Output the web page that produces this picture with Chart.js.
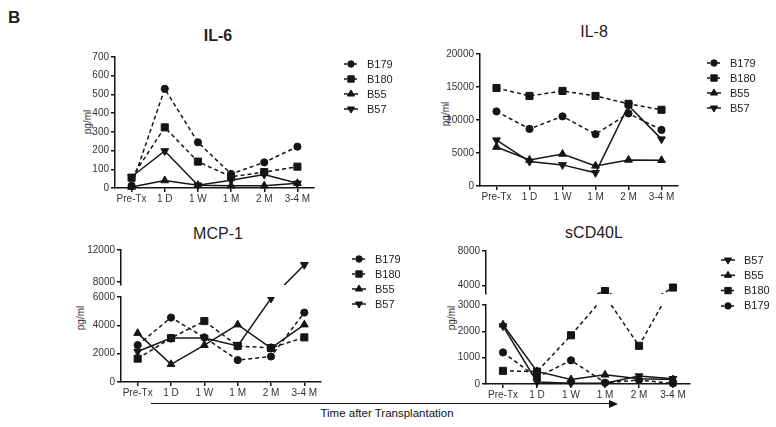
<!DOCTYPE html>
<html>
<head>
<meta charset="utf-8">
<script src="https://cdn.jsdelivr.net/npm/chart.js@4.4.0/dist/chart.umd.min.js"></script>
<style>
body { margin: 0; background: #fff; }
#page { position: relative; width: 776px; height: 427px; overflow: hidden; font-family: "Liberation Sans", Arial, sans-serif; color: #222; }
#page canvas { position: absolute; }
.title { position: absolute; font-size: 16px; line-height: 16px; transform: translate(-50%, -50%); white-space: nowrap; }
.ylab { position: absolute; font-size: 10px; line-height: 10px; color: #333; transform: translate(-50%, -50%) rotate(-90deg); white-space: nowrap; }
</style>
</head>
<body>
<div id="page">
  <div style="position:absolute;left:8px;top:8px;font-size:17px;font-weight:bold;">B</div>
  <div class="title" style="left:218px;top:36px;font-weight:bold;">IL-6</div>
  <div class="title" style="left:594px;top:32px;">IL-8</div>
  <div class="title" style="left:218px;top:234px;">MCP-1</div>
  <div class="title" style="left:594px;top:233px;">sCD40L</div>
  <div class="ylab" style="left:88px;top:122px;">pg/ml</div>
  <div class="ylab" style="left:446px;top:114px;">pg/ml</div>
  <div class="ylab" style="left:81px;top:318px;">pg/ml</div>
  <div class="ylab" style="left:452px;top:318px;">pg/ml</div>
  <div style="position:absolute;left:151px;top:403px;width:460px;height:0;border-top:1.5px solid #111;"></div>
  <div style="position:absolute;left:609px;top:400px;width:0;height:0;border-left:9px solid #111;border-top:4px solid transparent;border-bottom:4px solid transparent;"></div>
  <div style="position:absolute;left:387px;top:413px;transform:translate(-50%,-50%);font-size:11.5px;white-space:nowrap;color:#111;">Time after Transplantation</div>
</div>
<script>
// time points (x categories)
const timepoints = ['Pre-Tx', '1 D', '1 W', '1 M', '2 M', '3-4 M'];

// IL-6 (pg/ml)
const il6B179 = [12, 530, 244, 75, 137, 221];
const il6B180 = [55, 324, 141, 60, 85, 114];
const il6B55 = [5, 40, 15, 12, 12, 25];
const il6B57 = [60, 198, 15, 42, 72, 25];

// IL-8 (pg/ml)
const il8B179 = [11300, 8650, 10550, 7850, 11000, 8500];
const il8B180 = [14850, 13650, 14400, 13650, 12450, 11550];
const il8B55 = [5900, 3950, 4850, 3050, 3950, 3900];
const il8B57 = [6950, 3700, 3200, 2000, 12200, 7100];

// MCP-1 (pg/ml)
const mcpB179 = [2600, 4550, 3150, 1550, 1800, 4900];
const mcpB180 = [1650, 3100, 4300, 2550, 2400, 3150];
const mcpB55 = [3450, 1250, 2600, 4050, 2400, 4050];
const mcpB57 = [2150, 3100, 3100, 2550, 5900, 10150];

// sCD40L (pg/ml)
const cdB179 = [1200, 250, 900, 50, 150, 20];
const cdB180 = [500, 470, 1850, 3350, 1450, 3750];
const cdB55 = [2250, 480, 170, 350, 200, 170];
const cdB57 = [2200, 80, 30, 30, 300, 200];

// y tick labels
const il6Ticks = [0, 100, 200, 300, 400, 500, 600, 700];
const il8Ticks = [0, 5000, 10000, 15000, 20000];
const mcpLowTicks = [0, 2000, 4000, 6000];
const mcpHighTicks = [8000, 12000];
const cdLowTicks = [0, 1000, 2000, 3000];
const cdHighTicks = [4000, 8000];

const ink = '#151515';
Chart.defaults.font.family = "'Liberation Sans', Arial, sans-serif";

const seriesStyle = {
  B179: { shape: 'circle', rotation: 0, radius: 3.6, dash: [4, 3] },
  B180: { shape: 'rect', rotation: 0, radius: 5, dash: [4, 3] },
  B55: { shape: 'triangle', rotation: 0, radius: 4.5, dash: [] },
  B57: { shape: 'triangle', rotation: 180, radius: 4.5, dash: [] }
};

function makeDataset(label, values, clip) {
  const s = seriesStyle[label];
  return {
    label: label,
    data: values,
    borderColor: ink,
    backgroundColor: ink,
    borderWidth: 1.5,
    borderDash: s.dash,
    pointStyle: s.shape,
    pointRotation: s.rotation,
    pointRadius: s.radius,
    pointBorderWidth: 1,
    pointBackgroundColor: ink,
    pointBorderColor: ink,
    tension: 0,
    clip: clip === undefined ? 3 : clip
  };
}

// broken-axis halves: cut lines right at the break
const clipLow = { left: 3, right: 3, top: 0, bottom: 3 };
const clipHigh = { left: 3, right: 3, top: 3, bottom: 0 };

// legend drawn next to each panel: short line + marker + name
const sideLegend = {
  id: 'sideLegend',
  afterDraw(chart, args, opts) {
    if (!opts.items) return;
    const ctx = chart.ctx;
    opts.items.forEach(function (idx, i) {
      const ds = chart.data.datasets[idx];
      const y = opts.y + i * opts.gap;
      ctx.save();
      ctx.strokeStyle = ink;
      ctx.fillStyle = ink;
      ctx.lineWidth = 1.5;
      ctx.setLineDash(ds.borderDash.length ? [3, 2] : []);
      ctx.beginPath();
      ctx.moveTo(opts.x - 7, y);
      ctx.lineTo(opts.x + 7, y);
      ctx.stroke();
      ctx.setLineDash([]);
      ctx.lineWidth = 1;
      Chart.helpers.drawPoint(ctx, { pointStyle: ds.pointStyle, rotation: ds.pointRotation, radius: ds.pointRadius * 0.9, borderWidth: 1 }, opts.x, y);
      ctx.fillStyle = '#222';
      ctx.font = "11px 'Liberation Sans', Arial, sans-serif";
      ctx.textBaseline = 'middle';
      ctx.fillText(ds.label, opts.x + 16, y + 0.5);
      ctx.restore();
    });
  }
};
Chart.register(sideLegend);

const page = document.getElementById('page');

function addCanvas(box) {
  const c = document.createElement('canvas');
  c.width = box[2];
  c.height = box[3];
  c.style.left = box[0] + 'px';
  c.style.top = box[1] + 'px';
  c.style.width = box[2] + 'px';
  c.style.height = box[3] + 'px';
  page.appendChild(c);
  return c;
}

// box = canvas [x, y, w, h]; area = plot area [x0, y0, x1, y1] in page pixels
function panel(box, area, yMin, yMax, yTicks, datasets, showX, legend) {
  const yW = 40;
  const tickFont = { size: 10 };
  return new Chart(addCanvas(box), {
    type: 'line',
    data: { labels: timepoints, datasets: datasets },
    options: {
      responsive: false,
      animation: false,
      events: [],
      layout: {
        padding: {
          left: area[0] - box[0] - yW,
          top: area[1] - box[1],
          right: box[0] + box[2] - area[2],
          bottom: showX ? 0 : box[1] + box[3] - area[3]
        }
      },
      plugins: {
        legend: { display: false },
        tooltip: { enabled: false },
        sideLegend: legend ? { x: legend.x - box[0], y: legend.y - box[1], gap: legend.gap, items: legend.items } : false
      },
      scales: {
        x: {
          type: 'category',
          offset: true,
          display: showX,
          grid: { drawOnChartArea: false, tickLength: 4, color: ink, lineWidth: 1.5 },
          border: { color: ink, width: 1.5 },
          ticks: { font: tickFont, color: '#333', padding: 1, maxRotation: 0, autoSkip: false },
          afterFit: function (s) { if (showX) s.height = box[1] + box[3] - area[3]; }
        },
        y: {
          min: yMin,
          max: yMax,
          afterBuildTicks: function (s) { s.ticks = yTicks.map(function (v) { return { value: v }; }); },
          grid: { drawOnChartArea: false, tickLength: 4, color: ink, lineWidth: 1.5 },
          border: { color: ink, width: 1.5 },
          ticks: { font: tickFont, color: '#333', padding: 2, callback: function (v) { return String(v); } },
          afterFit: function (s) { s.width = yW; }
        }
      }
    }
  });
}

// IL-6
panel([0, 0, 400, 212], [115, 57, 314, 188], 0, 700, il6Ticks,
  [makeDataset('B179', il6B179), makeDataset('B180', il6B180), makeDataset('B55', il6B55), makeDataset('B57', il6B57)],
  true, { x: 351, y: 64, gap: 15, items: [0, 1, 2, 3] });

// IL-8
panel([388, 0, 388, 212], [480, 54, 678, 186], 0, 20000, il8Ticks,
  [makeDataset('B179', il8B179), makeDataset('B180', il8B180), makeDataset('B55', il8B55), makeDataset('B57', il8B57)],
  true, { x: 714, y: 63, gap: 15, items: [0, 1, 2, 3] });

// MCP-1, broken axis: upper part then lower part
panel([0, 212, 400, 215], [121, 250, 321, 285], 7600, 12000, mcpHighTicks,
  [makeDataset('B57', mcpB57, clipHigh)], false, null);
panel([0, 212, 400, 215], [121, 297, 321, 382], 0, 6000, mcpLowTicks,
  [makeDataset('B179', mcpB179, clipLow), makeDataset('B180', mcpB180, clipLow), makeDataset('B55', mcpB55, clipLow), makeDataset('B57', mcpB57, clipLow)],
  true, { x: 359, y: 259, gap: 15, items: [0, 1, 2, 3] });

// sCD40L, broken axis
panel([388, 212, 388, 215], [486, 251, 690, 294], 3000, 8000, cdHighTicks,
  [makeDataset('B180', cdB180, clipHigh)], false, null);
panel([388, 212, 388, 215], [486, 305, 690, 384], 0, 3000, cdLowTicks,
  [makeDataset('B179', cdB179, clipLow), makeDataset('B180', cdB180, clipLow), makeDataset('B55', cdB55, clipLow), makeDataset('B57', cdB57, clipLow)],
  true, { x: 728, y: 260, gap: 15.3, items: [3, 2, 1, 0] });
</script>
</body>
</html>
